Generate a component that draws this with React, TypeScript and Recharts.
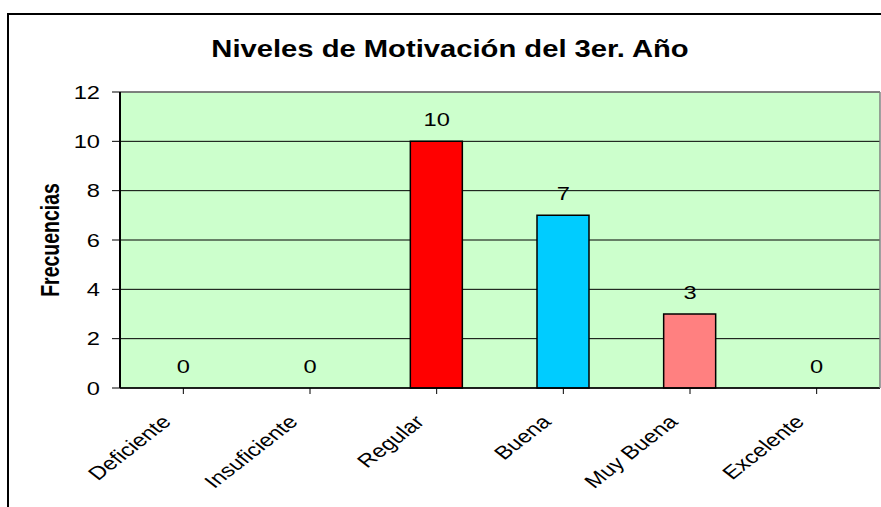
import React from 'react';
import { ComposedChart, Bar, Line, XAxis, YAxis, CartesianGrid, Cell, ReferenceLine } from 'recharts';

const categorias = ['Deficiente', 'Insuficiente', 'Regular', 'Buena', 'Muy Buena', 'Excelente'];
const frecuencias = [0, 0, 10, 7, 3, 0];
const colores = ['#9999FF', '#993366', '#FF0000', '#00CCFF', '#FF8080', '#FFFFCC'];
const yTicks = [0, 2, 4, 6, 8, 10, 12];

const data = categorias.map((nivel, i) => ({ nivel, valor: frecuencias[i] }));

const FONT = '"Liberation Sans", Arial, sans-serif';
const SX = 1.28; // the original picture is stretched sideways

function YTick(props: any) {
  const { x, y, payload } = props;
  return (
    <text
      transform={`translate(${x},${y}) scale(${SX},1)`}
      textAnchor="end"
      dy="0.36em"
      fontSize={18.5}
      fontFamily={FONT}
      fill="#000"
    >
      {payload.value}
    </text>
  );
}

function XTick(props: any) {
  const { x, y, payload } = props;
  return (
    <text
      transform={`translate(${x - 11},${y + 27}) scale(${SX},1) rotate(-45)`}
      textAnchor="end"
      fontSize={18.5}
      fontFamily={FONT}
      fill="#000"
    >
      {payload.value}
    </text>
  );
}

// value labels sit on the (invisible) line points so the zeros show too
function ValueLabel(props: any) {
  const { x, y, value } = props;
  return (
    <text
      transform={`translate(${x},${y - 15}) scale(${SX},1)`}
      textAnchor="middle"
      fontSize={18.5}
      fontFamily={FONT}
      fill="#000"
    >
      {value}
    </text>
  );
}

export default function App() {
  return (
    <div style={{ position: 'absolute', left: 0, top: 0, width: 881, height: 507, background: '#fff' }}>
      <ComposedChart
        width={881}
        height={507}
        data={data}
        margin={{ top: 92, right: 0, bottom: 59, left: 0 }}
        barCategoryGap={0}
      >
        <CartesianGrid vertical={false} fill="#CCFFCC" stroke="#000" strokeOpacity={1} />
        <XAxis
          dataKey="nivel"
          height={60}
          interval={0}
          tickSize={6}
          tickLine={{ stroke: '#000' }}
          axisLine={{ stroke: '#000', strokeWidth: 1.5 }}
          tick={<XTick />}
        />
        <YAxis
          width={120}
          domain={[0, 12]}
          ticks={yTicks}
          tickSize={8}
          tickMargin={12}
          tickLine={{ stroke: '#000' }}
          axisLine={{ stroke: '#000', strokeWidth: 2 }}
          tick={<YTick />}
        />
        <YAxis
          yAxisId="borde"
          orientation="right"
          width={1}
          domain={[0, 12]}
          tick={false}
          tickLine={false}
          axisLine={{ stroke: '#808080', strokeWidth: 1.5 }}
        />
        <ReferenceLine y={12} stroke="#808080" strokeWidth={1.5} />
        <Bar dataKey="valor" barSize={52} stroke="#000" strokeWidth={1.5} isAnimationActive={false}>
          {data.map((d, i) => (
            <Cell key={d.nivel} fill={colores[i]} />
          ))}
        </Bar>
        <Line
          dataKey="valor"
          stroke="none"
          dot={false}
          activeDot={false}
          legendType="none"
          label={<ValueLabel />}
          isAnimationActive={false}
        />
      </ComposedChart>
      <svg
        width={881}
        height={507}
        style={{ position: 'absolute', left: 0, top: 0, pointerEvents: 'none' }}
      >
        <path d="M8,507 L8,14 L881,14" fill="none" stroke="#000" strokeWidth={2} />
        <text
          transform={`translate(450,57) scale(1.27,1)`}
          textAnchor="middle"
          fontSize={23}
          fontWeight="bold"
          fontFamily={FONT}
          fill="#000"
        >
          Niveles de Motivación del 3er. Año
        </text>
        <text
          transform={`translate(59,240) scale(${SX},1) rotate(-90)`}
          textAnchor="middle"
          fontSize={19.5}
          fontWeight="bold"
          fontFamily={FONT}
          fill="#000"
        >
          Frecuencias
        </text>
      </svg>
    </div>
  );
}
